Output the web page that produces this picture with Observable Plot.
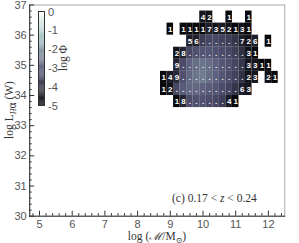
<!DOCTYPE html>
<html><head><meta charset="utf-8">
<script src="https://cdn.jsdelivr.net/npm/d3@7"></script>
<script src="https://cdn.jsdelivr.net/npm/@observablehq/plot@0.6"></script>
<style>
body{margin:0;background:#fff}
#wrap{width:299px;height:243px;overflow:hidden;background:#fff}
</style></head><body>
<div id="wrap"></div>
<script>
// ---- data ----
const massCenters = [8.8,9.0,9.2,9.4,9.6,9.8,10.0,10.2,10.4,10.6,10.8,11.0,11.2,11.4,11.6,11.8,12.0,12.2];
const lumRows = [36.6,36.2,35.8,35.4,35.0,34.6,34.2,33.8];
const binW = 0.2, binH = 0.4;
// labels shown in cells (digits = galaxy counts, "." = many)
const lab366 = ["","","","","","","4","2","","","1","","","1","","","",""];
const lab362 = ["","1","","1","1","1","1","7","3","5","2","1","3","1","","","",""];
const lab358 = ["","","","","5","6",".",".",".",".",".",".","7","2","6","","1",""];
const lab354 = ["","","2","8",".",".",".",".",".",".",".",".",".","3","1","","",""];
const lab350 = ["","","9",".",".",".",".",".",".",".",".",".",".","3","3","1","1",""];
const lab346 = ["1","4","9",".",".",".",".",".",".",".",".",".",".","2","3","","2","1"];
const lab342 = ["1","2",".",".",".",".",".",".",".",".",".",".","6","3","","","",""];
const lab338 = ["","","1","8",".",".",".",".",".",".","4","1","","","","","",""];
// log Phi per cell (null = empty)
const N = null;
const phi366 = [N,N,N,N,N,N,-4.5,-4.6,N,N,-4.8,N,N,-4.8,N,N,N,N];
const phi362 = [N,-4.8,N,-4.8,-4.8,-4.8,-4.8,-4.3,-4.6,-4.4,-4.6,-4.8,-4.6,-4.8,N,N,N,N];
const phi358 = [N,N,N,N,-4.4,-4.3,-3.6,-3.4,-3.4,-3.5,-3.6,-3.8,-4.3,-4.6,-4.3,N,-4.8,N];
const phi354 = [N,N,-4.6,-4.2,-3.4,-3.2,-3.1,-3.1,-3.2,-3.3,-3.4,-3.6,-3.9,-4.5,-4.8,N,N,N];
const phi350 = [N,N,-4.2,-3.3,-2.9,-2.7,-2.6,-2.7,-2.9,-3.1,-3.2,-3.4,-3.8,-4.5,-4.5,-4.8,-4.8,N];
const phi346 = [-4.8,-4.4,-4.1,-3.2,-2.8,-2.6,-2.5,-2.7,-2.9,-3.1,-3.3,-3.5,-3.9,-4.6,-4.5,N,-4.6,-4.8];
const phi342 = [-4.8,-4.6,-3.4,-3.0,-2.8,-2.8,-2.9,-3.0,-3.1,-3.3,-3.5,-3.8,-4.3,-4.5,N,N,N,N];
const phi338 = [N,N,-4.8,-4.2,-3.3,-3.2,-3.2,-3.3,-3.4,-3.6,-4.4,-4.8,N,N,N,N,N,N];
const rowLabels = [lab366,lab362,lab358,lab354,lab350,lab346,lab342,lab338];
const rowPhi = [phi366,phi362,phi358,phi354,phi350,phi346,phi342,phi338];
const xMajor = [5,6,7,8,9,10,11,12];
const yMajor = [30,31,32,33,34,35,36,37];
const cbTicks = [0,-1,-2,-3,-4,-5];

// ---- build ----
const cells = [];
lumRows.forEach((L, r) => rowLabels[r].forEach((lab, i) => {
  const p = rowPhi[r][i];
  if (p != null) cells.push({m: massCenters[i], L, phi: p, lab});
}));
const xMinor = d3.range(48, 125, 2).map(v => v / 10).filter(v => !xMajor.includes(v));
const yMinor = d3.range(300, 371, 2).map(v => v / 10).filter(v => !yMajor.includes(v));

// IDL/matplotlib "bone" colormap
function bone(t) {
  t = Math.max(0, Math.min(1, t));
  const seg = (pts) => { for (let k = 1; k < pts.length; k++) { const [x0,y0] = pts[k-1], [x1,y1] = pts[k]; if (t <= x1) return y0 + (t - x0) / (x1 - x0) * (y1 - y0); } return 1; };
  const r = seg([[0,0],[0.746032,0.652778],[1,1]]);
  const g = seg([[0,0],[0.365079,0.319444],[0.746032,0.777778],[1,1]]);
  const b = seg([[0,0],[0.365079,0.444444],[1,1]]);
  return `rgb(${Math.round(r*255)},${Math.round(g*255)},${Math.round(b*255)})`;
}
const colorScale = {type: "linear", domain: [-5, 0], interpolate: bone};

const W = 299, H = 243, mL = 29.2, mR = 14.75, mT = 4.5, mB = 27.3;
const plotW = W - mL - mR, plotH = H - mT - mB;
const axisCol = "#333", labCol = "#555";
const serif = "Liberation Serif, DejaVu Serif, serif";

const main = Plot.plot({
  width: W, height: H, marginLeft: mL, marginRight: mR, marginTop: mT, marginBottom: mB,
  x: {domain: [4.7, 12.5]}, y: {domain: [30, 37]},
  color: colorScale,
  style: {background: "transparent", fontFamily: "Liberation Sans, Arial, sans-serif", overflow: "visible"},
  marks: [
    Plot.rect(cells, {x1: d => d.m - binW/2, x2: d => d.m + binW/2, y1: d => d.L - binH/2, y2: d => d.L + binH/2, fill: "phi"}),
    Plot.text(cells, {x: "m", y: "L", text: "lab", fill: "white", fontSize: 8, fontWeight: "bold"}),
    Plot.frame({stroke: "#aaa"}),
    Plot.frame({anchor: "left", stroke: axisCol}),
    Plot.frame({anchor: "bottom", stroke: axisCol}),
    Plot.tickY(yMajor, {y: d => d, insetRight: plotW - 5, stroke: axisCol}),
    Plot.tickY(yMinor, {y: d => d, insetRight: plotW - 2.5, stroke: axisCol}),
    Plot.tickX(xMajor, {x: d => d, insetTop: plotH - 5, stroke: axisCol}),
    Plot.tickX(xMinor, {x: d => d, insetTop: plotH - 2.5, stroke: axisCol}),
    Plot.axisY(yMajor, {tickSize: 0, tickPadding: 3, fontSize: 11, color: labCol, label: null}),
    Plot.axisX(xMajor, {tickSize: 0, tickPadding: 4, fontSize: 11, color: labCol, label: null})
  ]
});

// colour bar (inset): its own small plot, whose content is moved into the main svg
const CBL = 30, CBW = 50, CBH = 112;
const step = 0.05;
const cbSteps = d3.range(-5, 0, step);
const cb = Plot.plot({
  width: CBW, height: CBH, margin: 0,
  x: {domain: [0, 1], range: [8.5, 14.5], axis: null},
  y: {domain: [-5, 0], range: [105.5, 11.5], axis: null},
  color: colorScale,
  style: {background: "transparent", fontFamily: "Liberation Sans, Arial, sans-serif"},
  marks: [
    Plot.rect(cbSteps, {x1: 0, x2: 1, y1: d => d, y2: d => d + step, fill: d => d + step/2}),
    Plot.rect([0], {x1: 0, x2: 1, y1: -5, y2: 0, fill: "none", stroke: "#333"}),
    Plot.text(cbTicks, {x: 1, y: d => d, text: d => String(d), dx: 3, textAnchor: "start", fontSize: 11, fill: labCol})
  ]
});
const svg = d3.select(main);
const gcb = svg.append("g").attr("transform", `translate(${CBL},0)`).node();
for (const child of Array.from(cb.childNodes)) {
  if (child.nodeName.toLowerCase() !== "style") gcb.appendChild(child);
}
document.getElementById("wrap").appendChild(main);

// axis titles and annotation as SVG text (with sub/italic tspans) in the main svg
function title(parts, {x, y, rotate = 0, anchor = "middle"}) {
  const t = svg.append("text")
    .attr("transform", `translate(${x},${y}) rotate(${rotate})`)
    .attr("text-anchor", anchor)
    .attr("font-family", serif).attr("font-size", 11.5).attr("fill", "#333");
  for (const p of parts) {
    const s = t.append("tspan").text(p.t);
    if (p.i) s.attr("font-style", "italic");
    if (p.sub) s.attr("font-size", 8).attr("dy", 2.5);
    if (p.up) s.attr("dy", -2.5);
  }
}
title([{t: "log L"}, {t: "H", i: 1, sub: 1}, {t: "α"}, {t: " (W)", up: 1}], {x: 13, y: 110, rotate: -90});
title([{t: "log Φ"}], {x: 67, y: 58, rotate: -90});
title([{t: "log ("}, {t: "ℳ", i: 1}, {t: "/M"}, {t: "⊙", sub: 1}, {t: ")", up: 1}], {x: 157, y: 240});
title([{t: "(c) 0.17 < "}, {t: "z", i: 1}, {t: " < 0.24"}], {x: 172, y: 202, anchor: "start"});
</script></body></html>
